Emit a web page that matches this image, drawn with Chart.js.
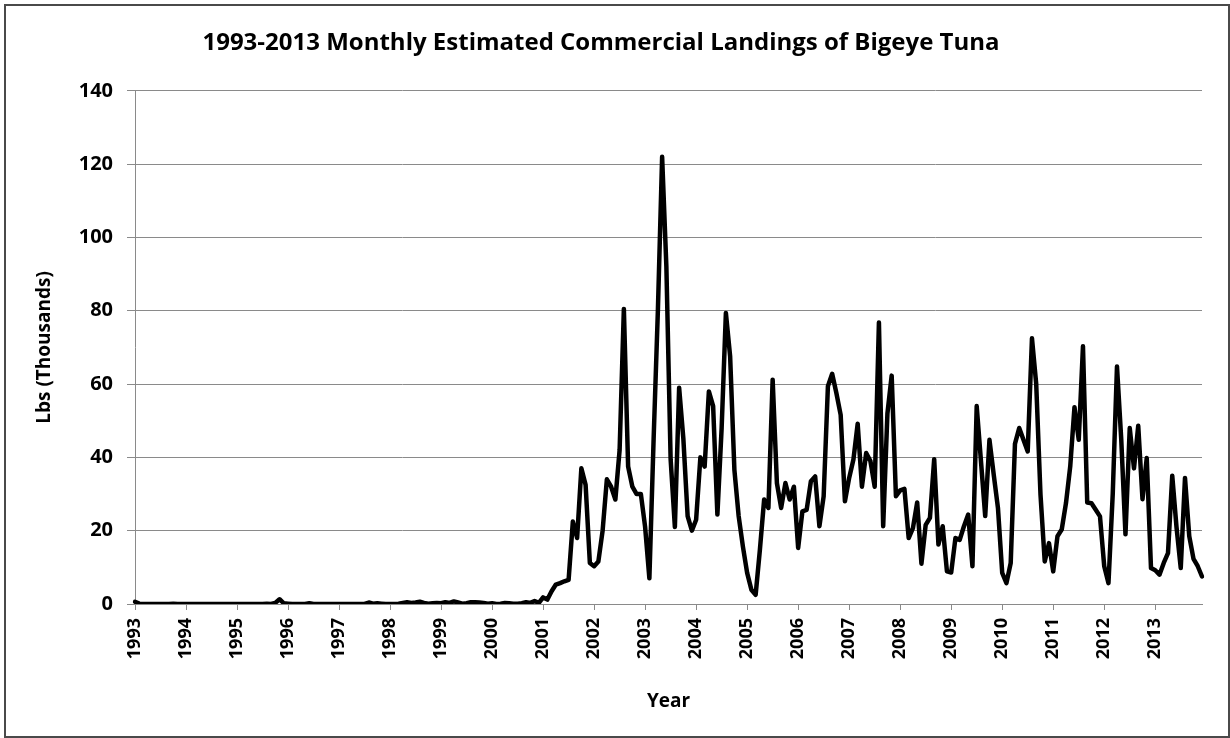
<!DOCTYPE html>
<html>
<head>
<meta charset="utf-8">
<title>Bigeye Tuna Landings</title>
<script src="https://cdn.jsdelivr.net/npm/chart.js@4.4.1/dist/chart.umd.min.js"></script>
<style>
  html, body { margin: 0; padding: 0; background: #fff; }
  #wrap { position: relative; width: 1230px; height: 738px; }
  #frame { position: absolute; left: 4px; top: 4px; width: 1222px; height: 730px; border: 2px solid #4a4a4a; }
  #chart { position: absolute; left: 0; top: 0; }
</style>
</head>
<body>
<div id="wrap">
  <div id="frame"></div>
  <canvas id="chart" width="1230" height="738"></canvas>
</div>
<script>
// monthly landings, thousands of lbs (Jan..Dec)
const years = [1993, 1994, 1995, 1996, 1997, 1998, 1999, 2000, 2001, 2002, 2003,
               2004, 2005, 2006, 2007, 2008, 2009, 2010, 2011, 2012, 2013];

const y1993 = [0.6, 0.1, 0, 0, 0, 0, 0, 0, 0, 0.1, 0, 0];
const y1994 = [0, 0, 0, 0, 0, 0, 0, 0, 0, 0, 0, 0];
const y1995 = [0, 0, 0, 0, 0, 0, 0, 0.1, 0, 0.3, 1.3, 0.2];
const y1996 = [0.1, 0, 0, 0, 0, 0.2, 0, 0, 0, 0, 0, 0];
const y1997 = [0, 0, 0, 0, 0, 0, 0, 0.4, 0.1, 0.2, 0.1, 0];
const y1998 = [0, 0, 0.1, 0.3, 0.5, 0.3, 0.4, 0.6, 0.3, 0.1, 0.2, 0.3];
const y1999 = [0.2, 0.5, 0.3, 0.7, 0.4, 0.1, 0.2, 0.5, 0.5, 0.4, 0.3, 0.1];
const y2000 = [0.2, 0, 0.1, 0.3, 0.2, 0.1, 0.1, 0.2, 0.5, 0.3, 0.8, 0.3];
const y2001 = [1.8, 1.2, 3.5, 5.3, 5.7, 6.2, 6.6, 22.5, 18, 37, 32.5, 11.2];
const y2002 = [10.3, 11.6, 20, 34, 32, 28.5, 42, 80.5, 37.5, 32, 30, 30];
const y2003 = [21, 7, 45, 80, 122, 92, 39.5, 21, 59, 45, 24, 20];
const y2004 = [23, 40, 37.5, 58, 54, 24.4, 48, 79.4, 67.5, 36.6, 24, 15.7];
const y2005 = [8.5, 3.9, 2.5, 14.8, 28.5, 26.2, 61.2, 33, 26.2, 33, 28.5, 32];
const y2006 = [15.3, 25.3, 25.7, 33.5, 34.8, 21.2, 29.4, 59.4, 62.8, 57.5, 51.6, 28];
const y2007 = [34.4, 39.4, 49.2, 32, 41.2, 39, 32, 76.8, 21.2, 52, 62.3, 29.4];
const y2008 = [31, 31.4, 18, 20.7, 27.7, 11, 21.6, 23.5, 39.5, 16.2, 21.2, 8.9];
const y2009 = [8.6, 18, 17.5, 21.2, 24.4, 10.3, 54, 39, 24, 44.8, 35.3, 26.2];
const y2010 = [8.5, 5.7, 11.2, 43.7, 48, 44.8, 41.6, 72.5, 60, 30, 11.6, 16.6];
const y2011 = [8.9, 18.5, 20.3, 27.5, 37.5, 53.7, 44.8, 70.3, 27.7, 27.5, 25.7, 23.9];
const y2012 = [10.3, 5.7, 30, 64.8, 45, 19, 48, 37, 48.6, 28.6, 39.8, 9.8];
const y2013 = [9.2, 8, 11.2, 13.9, 35, 21, 9.8, 34.4, 18.5, 12.3, 10.3, 7.5];

const yTicks = [0, 20, 40, 60, 80, 100, 120, 140];

const values = [].concat(y1993, y1994, y1995, y1996, y1997, y1998, y1999, y2000,
  y2001, y2002, y2003, y2004, y2005, y2006, y2007, y2008, y2009, y2010,
  y2011, y2012, y2013);

// one category per month, year shown on January only
const labels = [];
years.forEach((yr) => {
  for (let m = 0; m < 12; m++) labels.push(m === 0 ? String(yr) : '');
});

const FONT = "'Open Sans', 'Noto Sans', sans-serif";
const GRID = '#8a8a8a';

new Chart(document.getElementById('chart'), {
  type: 'line',
  data: {
    labels: labels,
    datasets: [{
      data: values,
      borderColor: '#000',
      borderWidth: 4.5,
      borderJoinStyle: 'round',
      borderCapStyle: 'round',
      pointRadius: 0,
      tension: 0,
      fill: false
    }]
  },
  options: {
    responsive: false,
    animation: false,
    layout: { padding: { left: 0, right: 28, top: 0, bottom: 0 } },
    plugins: {
      legend: { display: false },
      tooltip: { enabled: false },
      title: {
        display: true,
        text: '1993-2013 Monthly Estimated Commercial Landings of Bigeye Tuna',
        color: '#000',
        font: { family: FONT, size: 24, weight: 'bold' },
        padding: { top: 29, bottom: 33 }
      }
    },
    scales: {
      x: {
        offset: false,
        grid: { drawOnChartArea: false, drawTicks: true, tickLength: 6, color: GRID, lineWidth: 1 },
        border: { display: true, color: GRID, width: 1 },
        ticks: {
          autoSkip: false,
          minRotation: 90,
          maxRotation: 90,
          padding: 8,
          color: '#000',
          font: { family: FONT, size: 18, weight: 'bold' },
          callback: (v, i) => (labels[i] ? labels[i] : null)
        },
        title: {
          display: true,
          text: 'Year',
          color: '#000',
          font: { family: FONT, size: 19, weight: 'bold' },
          padding: { top: 0, bottom: 25 }
        },
        afterFit: (s) => { s.height = 134; }
      },
      y: {
        min: 0,
        max: 140,
        afterBuildTicks: (s) => { s.ticks = yTicks.map((v) => ({ value: v })); },
        grid: { color: GRID, lineWidth: 1, drawTicks: true, tickLength: 8 },
        border: { display: true, color: GRID, width: 1 },
        ticks: {
          padding: 14,
          color: '#000',
          font: { family: FONT, size: 20, weight: 'bold' }
        },
        title: {
          display: true,
          text: 'Lbs (Thousands)',
          color: '#000',
          font: { family: FONT, size: 19, weight: 'bold' },
          padding: { top: 33, bottom: 0 }
        },
        afterFit: (s) => { s.width = 135; }
      }
    }
  }
});
</script>
</body>
</html>
